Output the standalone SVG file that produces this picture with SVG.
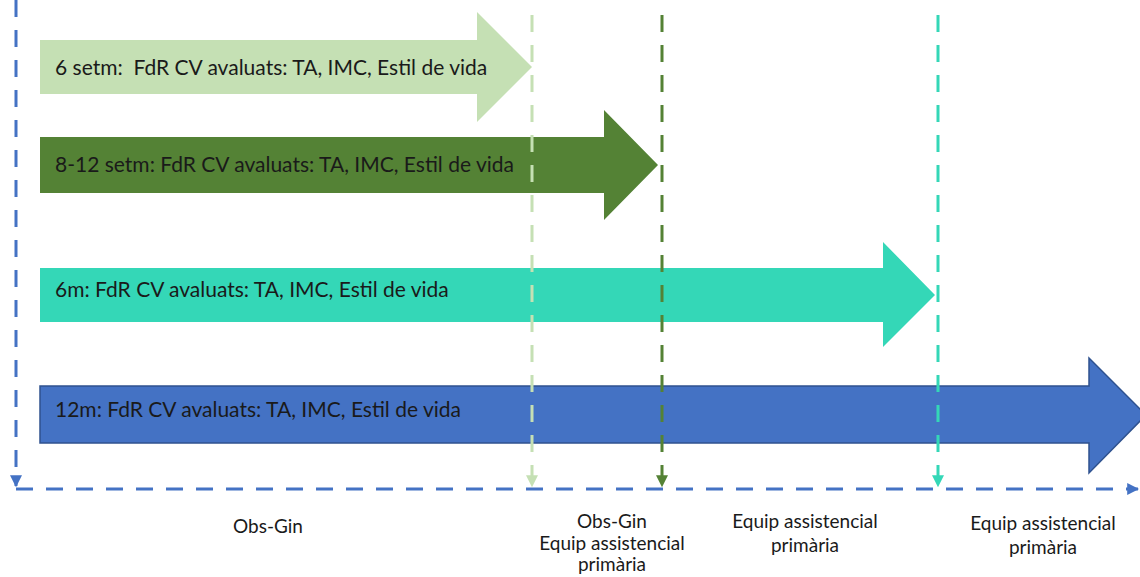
<svg xmlns="http://www.w3.org/2000/svg" width="1140" height="577" viewBox="0 0 1140 577">
<style>
.t{font-family:Lato,"Liberation Sans",sans-serif;font-size:21px;fill:#1a1a1a;white-space:pre}
.l{font-family:Lato,"Liberation Sans",sans-serif;font-size:19px;fill:#1a1a1a;text-anchor:middle}
.v{fill:none;stroke-width:3;stroke-dasharray:17 13}
</style>
<defs>
<marker id="mb" viewBox="0 0 10 10" refX="9" refY="5" markerWidth="4" markerHeight="4" orient="auto"><path d="M0,0 L10,5 L0,10 z" fill="#4472C4"/></marker>
<marker id="ml" viewBox="0 0 10 10" refX="9" refY="5" markerWidth="4" markerHeight="4" orient="auto"><path d="M0,0 L10,5 L0,10 z" fill="#C5E0B4"/></marker>
<marker id="md" viewBox="0 0 10 10" refX="9" refY="5" markerWidth="4" markerHeight="4" orient="auto"><path d="M0,0 L10,5 L0,10 z" fill="#548235"/></marker>
<marker id="mt" viewBox="0 0 10 10" refX="9" refY="5" markerWidth="4" markerHeight="4" orient="auto"><path d="M0,0 L10,5 L0,10 z" fill="#34D7B7"/></marker>
</defs>
<g id="arrow-6setm">
<polygon points="40,40 477,40 477,12 532,67 477,122 477,94 40,94" fill="#C5E0B4"/>
<text class="t" x="55" y="75" xml:space="preserve">6 setm:  FdR CV avaluats: TA, IMC, Estil de vida</text>
</g>
<g id="arrow-8-12setm">
<polygon points="40,137 604,137 604,110 658,165 604,220 604,193 40,193" fill="#548235"/>
<text class="t" x="55" y="172">8-12 setm: FdR CV avaluats: TA, IMC, Estil de vida</text>
</g>
<g id="arrow-6m">
<polygon points="40,268 883,268 883,242 935,295 883,347 883,322 40,322" fill="#34D7B7"/>
<text class="t" x="55" y="297">6m: FdR CV avaluats: TA, IMC, Estil de vida</text>
</g>
<g id="arrow-12m">
<polygon points="40,386 1089,386 1089,358 1146,415 1089,473 1089,443 40,443" fill="#4472C4" stroke="#2F528F" stroke-width="1.5"/>
<text class="t" x="55" y="417">12m: FdR CV avaluats: TA, IMC, Estil de vida</text>
</g>
<g id="connectors">
<path class="v" d="M16,0 V486" stroke="#4472C4" marker-end="url(#mb)"/>
<path class="v" d="M16,489 H1138" stroke="#4472C4" marker-end="url(#mb)"/>
<path class="v" d="M532,15 V486" stroke="#C5E0B4" marker-end="url(#ml)"/>
<path class="v" d="M662,15 V486" stroke="#548235" marker-end="url(#md)"/>
<path class="v" d="M938,15 V486" stroke="#34D7B7" marker-end="url(#mt)"/>
</g>
<g id="label-obsgin">
<text class="l" x="268" y="533">Obs-Gin</text>
</g>
<g id="label-obsgin-eap">
<text class="l" x="612" y="528">Obs-Gin</text>
<text class="l" x="612" y="550">Equip assistencial</text>
<text class="l" x="612" y="571">primària</text>
</g>
<g id="label-eap-1">
<text class="l" x="805" y="528">Equip assistencial</text>
<text class="l" x="805" y="552">primària</text>
</g>
<g id="label-eap-2">
<text class="l" x="1043" y="530">Equip assistencial</text>
<text class="l" x="1043" y="554">primària</text>
</g>
</svg>
